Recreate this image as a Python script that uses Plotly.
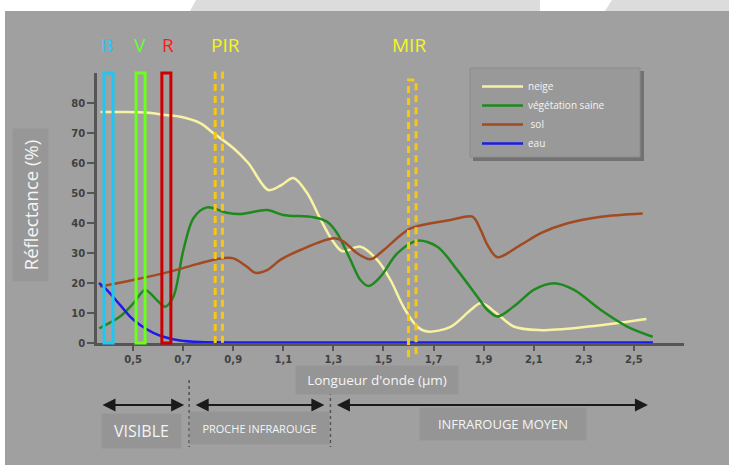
import plotly.graph_objects as go

# ---------------- data ----------------
tick_vals = [0.5, 0.7, 0.9, 1.1, 1.3, 1.5, 1.7, 1.9, 2.1, 2.3, 2.5]
tick_text = ["0,5", "0,7", "0,9", "1,1", "1,3", "1,5", "1,7", "1,9", "2,1", "2,3", "2,5"]
y_tick_vals = [0, 10, 20, 30, 40, 50, 60, 70, 80]

snow_x = [0.37, 0.46, 0.55, 0.63, 0.69, 0.77, 0.82, 0.90, 0.96, 1.04, 1.09, 1.14, 1.195, 1.25,
          1.295, 1.335, 1.408, 1.475, 1.528, 1.58, 1.635, 1.675, 1.768, 1.848, 1.89, 1.95,
          2.02, 2.12, 2.3, 2.55]
snow_y = [77, 77, 76.8, 76, 75.4, 73.2, 70, 65, 60, 51, 52.5, 55, 50, 41,
          34.3, 30.6, 32.1, 27.7, 21, 12, 5.4, 3.8, 5.4, 11, 13.3, 10,
          5.5, 4.3, 5.3, 8]

veg_x = [0.365, 0.448, 0.501, 0.548, 0.595, 0.628, 0.661, 0.701, 0.741, 0.795, 0.875, 0.928,
         1.035, 1.10, 1.221, 1.275, 1.315, 1.368, 1.408, 1.441, 1.488, 1.555, 1.635, 1.715,
         1.795, 1.875, 1.915, 1.955, 2.035, 2.10, 2.181, 2.261, 2.368, 2.475, 2.575]
veg_y = [4.9, 8.8, 13.2, 17.7, 14.3, 12.1, 15.4, 31, 41.6, 45.2, 43.4, 43,
         44.3, 42.7, 41.9, 40.4, 36.6, 27.7, 21, 19, 22.1, 29.9, 34.1, 32.1,
         24.3, 15.4, 11, 8.8, 13.2, 17.7, 19.9, 17.7, 11, 5.4, 2.1]

soil_x = [0.368, 0.5, 0.648, 0.755, 0.848, 0.901, 0.955, 0.988, 1.035, 1.088, 1.168, 1.301,
          1.341, 1.395, 1.448, 1.501, 1.608, 1.768, 1.855, 1.888, 1.915, 1.955, 2.048, 2.128,
          2.235, 2.368, 2.535]
soil_y = [18.8, 21, 23.8, 26.3, 28.2, 28.2, 25.4, 23.4, 24.3, 27.7, 31, 34.9,
          33.8, 29.9, 27.9, 31, 38.2, 41, 42.1, 37.7, 32.7, 28.6, 32.7, 36.6,
          39.9, 42.1, 43.2]

water_x = [0.364, 0.395, 0.448, 0.488, 0.528, 0.581, 0.621, 0.688, 0.768, 1.0, 1.5, 2.0, 2.576]
water_y = [20, 17.7, 12.7, 8.8, 6, 3.4, 2.1, 0.8, 0.3, 0.2, 0.2, 0.2, 0.2]

series_names = ["neige", "végétation saine", " sol", "eau"]
series_colors = ["#f7f3a2", "#1e8a1e", "#a24a22", "#1c1ce6"]

band_labels = ["B", "V", "R"]
band_x0 = [0.384, 0.512, 0.615]
band_x1 = [0.420, 0.548, 0.651]
band_top = [90, 90, 90]
band_colors = ["#1ec8f5", "#6cff1a", "#cc0000"]
band_label_x = [0.396, 0.528, 0.640]
band_label_colors = ["#22c8ff", "#66ff33", "#ff1a1a"]

ir_labels = ["PIR", "MIR"]
ir_x0 = [0.828, 1.600]
ir_x1 = [0.857, 1.630]
ir_top = [90, 87.7]
ir_bottom = [0, -4.7]
ir_label_x = [0.868, 1.600]

region_labels = ["VISIBLE", "PROCHE INFRAROUGE", "INFRAROUGE MOYEN"]
region_start = [0.372, 0.744, 1.308]
region_end = [0.704, 1.264, 2.556]
region_center = [0.532, 1.006, 1.976]
region_bounds = [0.724, 1.288]

Y_MAX = 90.0

# --------------- layout helpers (pixel -> paper) ---------------
L, T, PW, PH = 97, 73, 587, 270


def px(xp):
    return (xp - L) / PW


def py(yp):
    return (T + PH - yp) / PH


def yv(v):
    return v / Y_MAX


fig = go.Figure()

for name, col, xs, ys in zip(series_names, series_colors,
                              [snow_x, veg_x, soil_x, water_x],
                              [snow_y, veg_y, soil_y, water_y]):
    fig.add_trace(go.Scatter(x=xs, y=ys, mode="lines", name=name, hoverinfo="skip",
                             line=dict(color=col, width=2.5, shape="spline", smoothing=0.9)))

shapes = []
# background decorations (top white band with light grey pieces)
shapes.append(dict(type="rect", xref="paper", yref="paper", x0=px(-5), x1=px(735), y0=py(11), y1=py(-5),
                   fillcolor="white", line=dict(width=0), layer="below"))
shapes.append(dict(type="rect", xref="paper", yref="paper", x0=px(-5), x1=px(5), y0=py(470), y1=py(-5),
                   fillcolor="white", line=dict(width=0), layer="below"))
shapes.append(dict(type="path", xref="paper", yref="paper",
                   path=f"M {px(196)},{py(0)} L {px(540)},{py(0)} L {px(540)},{py(11)} L {px(190)},{py(11)} Z",
                   fillcolor="#dcdcdc", line=dict(width=0), layer="below"))
shapes.append(dict(type="path", xref="paper", yref="paper",
                   path=f"M {px(612)},{py(0)} L {px(735)},{py(0)} L {px(735)},{py(11)} L {px(605)},{py(11)} Z",
                   fillcolor="#dcdcdc", line=dict(width=0), layer="below"))

# colour bands B V R
for x0, x1, top, col in zip(band_x0, band_x1, band_top, band_colors):
    shapes.append(dict(type="rect", xref="x", yref="paper", x0=x0, x1=x1, y0=yv(0), y1=yv(top),
                       line=dict(color=col, width=3), fillcolor="rgba(0,0,0,0)", layer="above"))

# PIR / MIR dashed bands
for x0, x1, top, bot in zip(ir_x0, ir_x1, ir_top, ir_bottom):
    shapes.append(dict(type="path", xref="x", yref="paper",
                       path=f"M {x0},{yv(bot)} L {x0},{yv(top)} L {x1},{yv(top)} L {x1},{yv(bot)}",
                       line=dict(color="#f7c716", width=3, dash="7px,5px"), layer="above"))

# region separators (dotted)
for b in region_bounds:
    shapes.append(dict(type="line", xref="x", yref="paper", x0=b, x1=b, y0=py(380), y1=py(447),
                       line=dict(color="#505050", width=1.5, dash="dot")))

# legend box with shadow
shapes.append(dict(type="rect", xref="paper", yref="paper", x0=px(473), x1=px(644), y0=py(161), y1=py(71),
                   fillcolor="#727272", line=dict(width=0), layer="above"))
shapes.append(dict(type="rect", xref="paper", yref="paper", x0=px(470), x1=px(640), y0=py(157), y1=py(68),
                   fillcolor="#999999", line=dict(color="#8c8c8c", width=1), layer="above"))

annotations = []
label_font = "Open Sans"
C = dict(xanchor="center", yanchor="middle")
for lab, x, col in zip(band_labels, band_label_x, band_label_colors):
    annotations.append(dict(text=lab, x=x, xref="x", y=py(45), yref="paper", showarrow=False,
                            font=dict(family=label_font, size=19, color=col), **C))
for lab, x in zip(ir_labels, ir_label_x):
    annotations.append(dict(text=lab, x=x, xref="x", y=py(45), yref="paper", showarrow=False,
                            font=dict(family=label_font, size=19, color="#f5f51e"), **C))

# region arrows
for s, e in zip(region_start, region_end):
    annotations.append(dict(text="", x=e, xref="x", ax=s, axref="x", y=py(405), yref="paper",
                            ay=0, ayref="pixel", showarrow=True, arrowhead=2, arrowsize=1.3,
                            arrowwidth=2, arrowcolor="#1a1a1a", arrowside="end+start"))

box_bg = "#959595"
region_sizes = [(77, 32, 16, 431), (137, 30, 11, 428), (164, 30, 13, 424)]
for lab, c, (w, h, fs, yp) in zip(region_labels, region_center, region_sizes):
    annotations.append(dict(text=lab, x=c, xref="x", y=py(yp), yref="paper", showarrow=False,
                            width=w, height=h, bgcolor=box_bg,
                            font=dict(family=label_font, size=fs, color="#f4f4f4"), **C))

annotations.append(dict(text="Longueur d'onde (µm)", x=px(377), xref="paper", y=py(380), yref="paper",
                        showarrow=False, width=160, height=26, bgcolor=box_bg,
                        font=dict(family=label_font, size=13.5, color="#f4f4f4"), **C))
annotations.append(dict(text="Réflectance (%)", x=px(30), xref="paper", y=py(205), yref="paper",
                        showarrow=False, width=150, height=33, bgcolor="#979797", textangle=-90,
                        font=dict(family=label_font, size=18.5, color="#f4f4f4"), **C))

fig.update_layout(
    width=729, height=465,
    margin=dict(l=L, r=729 - L - PW, t=T, b=465 - T - PH),
    paper_bgcolor="#a0a0a0", plot_bgcolor="#a0a0a0",
    shapes=shapes, annotations=annotations,
    showlegend=True,
    hovermode=False,
    legend=dict(x=px(477), y=py(72), xanchor="left", yanchor="top",
                bgcolor="rgba(0,0,0,0)", borderwidth=0,
                font=dict(family=label_font, size=10, color="#f4f4f4"),
                itemwidth=41, tracegroupgap=0),
    xaxis=dict(range=[0.356, 2.70], tickvals=tick_vals, ticktext=tick_text,
               showgrid=False, zeroline=False, showline=True, linecolor="#555555", linewidth=2.5,
               ticks="outside", ticklen=5, tickwidth=1.5, tickcolor="#555555",
               tickfont=dict(family="DejaVu Sans", size=10, color="#404040", weight="bold")),
    yaxis=dict(range=[0, Y_MAX], tickvals=y_tick_vals,
               showgrid=False, zeroline=False, showline=True, linecolor="#555555", linewidth=2.5,
               ticks="outside", ticklen=7, tickwidth=1.5, tickcolor="#555555",
               tickfont=dict(family="DejaVu Sans", size=10, color="#404040", weight="bold")),
)

fig.write_html("out.html", config={"displayModeBar": False},
               post_script="document.body.style.margin='0px';")
